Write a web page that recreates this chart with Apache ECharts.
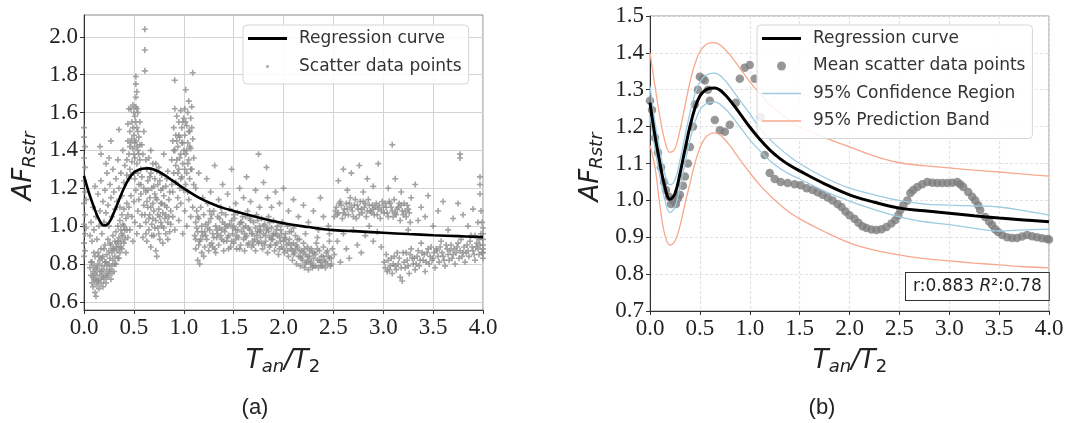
<!DOCTYPE html>
<html><head><meta charset="utf-8">
<script src="https://cdn.jsdelivr.net/npm/echarts@6/dist/echarts.min.js"></script>
<style>html,body{margin:0;padding:0;background:#fff}#c{width:1068px;height:423px}</style>
</head><body><div id="c"></div>
<script>
// ---------- tick labels ----------
const xTicks = [0, 0.5, 1, 1.5, 2, 2.5, 3, 3.5, 4];
const yTicksA = [0.6, 0.8, 1.0, 1.2, 1.4, 1.6, 1.8, 2.0];
const yTicksB = [0.7, 0.8, 0.9, 1.0, 1.1, 1.2, 1.3, 1.4, 1.5];

// ---------- regression curve & bands (shared x) ----------
const curveX = [0,0.05,0.1,0.15,0.2,0.25,0.3,0.35,0.4,0.45,0.5,0.55,0.6,0.65,0.7,0.75,0.8,0.9,1.0,1.1,1.2,1.3,1.4,1.5,1.75,2.0,2.25,2.5,2.75,3.0,3.25,3.5,3.75,4.0];
const regY   = [1.265,1.175,1.10,1.035,1.003,1.018,1.072,1.137,1.20,1.25,1.283,1.298,1.304,1.305,1.299,1.287,1.272,1.236,1.199,1.166,1.137,1.114,1.095,1.08,1.045,1.015,0.995,0.979,0.972,0.965,0.958,0.952,0.947,0.942];
const confUp = [1.31,1.21,1.135,1.07,1.042,1.055,1.108,1.173,1.237,1.288,1.321,1.337,1.344,1.345,1.339,1.326,1.309,1.272,1.235,1.197,1.166,1.141,1.119,1.10,1.062,1.033,1.015,1.0,0.99,0.987,0.985,0.982,0.972,0.96];
const confLo = [1.23,1.14,1.065,1.0,0.967,0.982,1.036,1.10,1.163,1.212,1.245,1.26,1.266,1.267,1.261,1.249,1.235,1.2,1.164,1.135,1.108,1.087,1.071,1.058,1.025,0.998,0.975,0.955,0.942,0.934,0.924,0.917,0.92,0.922];
const predUp = [1.40,1.31,1.225,1.16,1.13,1.14,1.19,1.255,1.32,1.37,1.403,1.42,1.427,1.428,1.422,1.41,1.395,1.359,1.322,1.29,1.26,1.237,1.217,1.199,1.17,1.145,1.12,1.102,1.094,1.088,1.082,1.077,1.071,1.066];
const predLo = [1.15,1.09,0.985,0.905,0.879,0.89,0.93,0.99,1.045,1.10,1.143,1.168,1.18,1.183,1.178,1.165,1.149,1.111,1.075,1.042,1.014,0.989,0.967,0.95,0.915,0.885,0.865,0.852,0.842,0.836,0.83,0.825,0.82,0.817];

// ---------- mean scatter points (panel b) ----------
const meanPts = [[0.00,1.27],[0.02,1.245],[0.05,1.17],[0.08,1.13],[0.11,1.09],[0.14,1.05],[0.16,1.028],[0.19,1.01],[0.21,0.99],[0.23,1.0],[0.26,0.99],[0.28,1.005],[0.30,1.015],[0.33,1.04],[0.35,1.065],[0.38,1.10],[0.40,1.145],[0.43,1.20],[0.45,1.26],[0.48,1.30],[0.50,1.335],[0.53,1.33],[0.55,1.325],[0.58,1.30],[0.60,1.27],[0.65,1.218],[0.70,1.19],[0.75,1.186],[0.80,1.205],[0.86,1.265],[0.90,1.33],[0.95,1.36],[1.00,1.367],[1.05,1.33],[1.11,1.226],[1.15,1.123],[1.20,1.074],[1.25,1.058],[1.31,1.05],[1.38,1.047],[1.45,1.044],[1.51,1.041],[1.57,1.033],[1.63,1.028],[1.68,1.022],[1.73,1.015],[1.78,1.008],[1.83,1.0],[1.88,0.99],[1.92,0.982],[1.96,0.97],[2.00,0.96],[2.05,0.95],[2.09,0.939],[2.13,0.93],[2.17,0.925],[2.22,0.921],[2.27,0.92],[2.32,0.922],[2.37,0.928],[2.42,0.937],[2.46,0.947],[2.49,0.96],[2.51,0.974],[2.54,0.987],[2.58,1.0],[2.61,1.02],[2.64,1.028],[2.68,1.036],[2.73,1.044],[2.78,1.05],[2.83,1.048],[2.88,1.047],[2.93,1.047],[2.98,1.047],[3.03,1.048],[3.08,1.05],[3.11,1.044],[3.14,1.036],[3.19,1.023],[3.23,1.01],[3.26,1.0],[3.29,0.987],[3.31,0.974],[3.36,0.955],[3.40,0.943],[3.43,0.933],[3.46,0.922],[3.49,0.914],[3.53,0.906],[3.58,0.90],[3.63,0.898],[3.68,0.898],[3.73,0.902],[3.78,0.906],[3.83,0.903],[3.88,0.90],[3.93,0.897],[3.98,0.895],[4.00,0.894]];

const scatterA = [[0.00,1.52],[0.00,1.47],[0.01,1.42],[0.00,1.36],[0.01,1.31],[0.00,1.24],[0.01,1.18],[0.00,1.12],[0.01,1.06],[0.00,1.01],[0.01,0.96],[0.00,0.91],[0.01,0.87],[0.02,1.14],[0.02,0.99],[0.00,0.84],
[0.06,0.78],[0.07,0.74],[0.08,0.70],[0.08,0.81],[0.09,0.68],[0.09,0.76],[0.10,0.72],[0.10,0.79],[0.11,0.65],[0.11,0.84],[0.12,0.63],[0.12,0.71],[0.12,0.77],[0.13,0.69],[0.13,0.74],[0.14,0.80],[0.14,0.86],[0.15,0.72],[0.15,0.67],[0.16,0.76],[0.16,0.82],[0.17,0.70],[0.17,0.88],[0.18,0.74],[0.18,0.79],[0.19,0.68],[0.19,0.84],[0.20,0.72],[0.20,0.77],[0.21,0.81],[0.21,0.90],[0.22,0.75],[0.22,0.70],[0.23,0.79],[0.23,0.85],[0.24,0.74],[0.24,0.93],[0.25,0.80],[0.25,0.87],[0.26,0.77],[0.26,0.83],[0.27,0.72],[0.27,0.90],[0.28,0.79],[0.28,0.86],[0.29,0.82],[0.29,0.95],[0.30,0.76],[0.30,0.88],[0.31,0.84],[0.31,0.92],[0.32,0.80],[0.32,0.97],[0.33,0.87],[0.33,0.91],[0.34,0.83],[0.34,1.00],[0.35,0.89],[0.35,0.94],[0.36,0.86],[0.36,1.03],[0.37,0.92],[0.37,0.98],[0.38,0.88],[0.38,1.06],[0.39,0.95],[0.39,1.01],[0.40,0.91],[0.40,1.09],[0.41,0.98],[0.42,1.04],[0.42,0.86],[0.43,1.12],[0.44,0.94],
[0.07,0.81],[0.09,0.73],[0.10,0.86],[0.11,0.75],[0.13,0.78],[0.14,0.71],[0.15,0.84],[0.17,0.76],[0.18,0.83],[0.19,0.73],[0.20,0.88],[0.22,0.81],[0.23,0.73],[0.25,0.76],[0.26,0.91],[0.28,0.75],[0.29,0.88],[0.31,0.80],[0.32,0.89],[0.34,0.92],[0.35,0.83],[0.37,0.89],[0.38,0.96],[0.40,1.00],[0.41,0.93],[0.43,0.98],[0.44,1.06],
[0.06,0.95],[0.07,1.02],[0.08,0.92],[0.09,1.10],[0.10,0.98],[0.11,1.21],[0.12,1.05],[0.13,0.93],[0.14,1.17],[0.15,1.00],[0.16,1.08],[0.17,1.24],[0.18,0.96],[0.19,1.13],[0.20,1.02],[0.21,1.19],[0.22,1.07],[0.23,1.28],[0.24,1.11],[0.25,1.00],[0.26,1.22],[0.27,1.15],[0.28,1.05],[0.29,1.30],[0.30,1.18],[0.31,1.09],[0.32,1.25],[0.33,1.13],[0.34,1.35],[0.35,1.20],[0.36,1.10],[0.37,1.28],[0.38,1.16],[0.39,1.40],[0.40,1.23],[0.41,1.32],[0.43,1.27],[0.44,1.45],
[0.16,1.42],[0.17,1.38],[0.27,1.45],[0.25,1.36],[0.35,1.51],[0.22,1.33]];

const scatterB = [[0.45,1.25],[0.45,1.38],[0.46,1.50],[0.46,1.30],[0.47,1.44],[0.47,1.62],[0.48,1.34],[0.48,1.55],[0.49,1.41],[0.49,1.64],[0.50,1.28],[0.50,1.48],[0.51,1.36],[0.51,1.58],[0.52,1.45],[0.52,1.68],[0.52,1.75],[0.52,1.79],[0.53,1.33],[0.53,1.52],[0.53,1.71],[0.54,1.40],[0.54,1.60],[0.55,1.22],[0.55,1.47],[0.56,1.35],[0.56,1.55],[0.57,1.30],[0.58,1.43],[0.58,1.26],[0.59,1.38],[0.60,1.20],[0.60,1.50],
[0.46,1.42],[0.47,1.27],[0.48,1.46],[0.49,1.52],[0.50,1.38],[0.50,1.60],[0.51,1.44],[0.51,1.25],[0.52,1.55],[0.53,1.42],[0.54,1.50],[0.54,1.28],[0.55,1.38],[0.56,1.43],[0.57,1.22],[0.43,1.35],[0.44,1.54],[0.45,1.62],[0.52,1.63],[0.53,1.62],
[0.45,1.10],[0.46,0.98],[0.47,1.16],[0.48,1.05],[0.49,0.92],[0.50,1.13],[0.51,1.02],[0.52,1.19],[0.53,0.96],[0.54,1.08],[0.55,1.14],[0.56,1.00],[0.57,1.17],[0.58,1.06],[0.59,0.94],[0.60,1.11],
[0.61,2.04],[0.61,1.93],[0.61,1.82],
[0.62,1.02],[0.62,1.18],[0.63,1.30],[0.63,0.92],[0.64,1.10],[0.64,1.24],[0.65,1.36],[0.65,0.98],[0.66,1.15],[0.66,1.06],[0.67,1.28],[0.67,0.89],[0.68,1.20],[0.68,1.01],[0.69,1.12],[0.69,1.33],[0.70,0.95],[0.70,1.08],[0.71,1.25],[0.71,1.17],[0.72,1.03],[0.72,0.87],[0.73,1.14],[0.73,0.84],[0.74,1.22],[0.74,0.99],[0.75,1.09],[0.75,1.31],[0.76,1.05],[0.76,0.93],[0.77,1.19],[0.77,1.12],[0.78,1.00],[0.78,1.27],[0.79,1.07],[0.79,0.91],[0.80,1.16],[0.80,1.38],[0.81,1.04],[0.82,1.21],[0.82,0.96],[0.83,1.10],[0.84,1.02],[0.84,1.29],[0.85,1.14],[0.86,0.97],[0.87,1.08],[0.88,1.22],
[0.61,1.06],[0.62,0.96],[0.63,1.13],[0.64,1.19],[0.65,1.04],[0.66,1.26],[0.67,1.10],[0.68,0.95],[0.69,1.04],[0.70,1.21],[0.71,0.99],[0.72,1.15],[0.73,1.29],[0.74,1.06],[0.75,0.96],[0.76,1.24],[0.77,1.02],[0.78,1.12],[0.79,1.20],[0.80,0.99],[0.81,1.11],[0.82,1.06],[0.83,1.25],[0.84,0.93],[0.85,1.05],[0.86,1.18],[0.87,1.01],[0.62,1.35],[0.67,1.40],[0.72,1.33],
[0.88,1.35],[0.89,1.45],[0.89,1.18],[0.90,1.52],[0.90,1.28],[0.91,1.62],[0.91,1.40],[0.91,1.77],[0.92,1.23],[0.92,1.48],[0.93,1.35],[0.93,1.58],[0.94,1.15],[0.94,1.42],[0.95,1.30],[0.95,1.55],[0.96,1.20],[0.96,1.47],[0.97,1.38],[0.97,1.61],[0.98,1.26],[0.98,1.52],[0.99,1.44],[0.99,1.33],[1.00,1.57],[1.00,1.19],[1.01,1.48],[1.01,1.62],[1.02,1.38],[1.02,1.72],[1.03,1.28],[1.03,1.53],[1.04,1.44],[1.04,1.60],[1.05,1.35],[1.05,1.66],[1.06,1.25],[1.06,1.50],[1.07,1.41],[1.07,1.57],[1.08,1.30],[1.08,1.63],[1.09,1.81],[1.09,1.46],[1.10,1.36],[1.10,1.22],
[0.90,1.40],[0.92,1.32],[0.93,1.45],[0.94,1.28],[0.95,1.48],[0.96,1.36],[0.97,1.25],[0.98,1.44],[0.99,1.55],[1.00,1.40],[1.01,1.30],[1.02,1.55],[1.03,1.40],[1.04,1.33],[1.05,1.50],[1.06,1.42],[1.07,1.30],[1.08,1.52],[1.02,1.22],[1.04,1.18],
[0.89,1.05],[0.91,0.98],[0.93,1.10],[0.95,1.03],[0.97,1.12],[0.99,0.96],[1.01,1.08],[1.03,1.00],[1.05,1.14],[1.07,1.05],[1.09,1.10]];

const scatterC = [[1.11,0.95],[1.12,1.02],[1.12,0.88],[1.13,1.08],[1.14,0.82],[1.14,0.97],[1.15,1.04],[1.16,0.80],[1.16,0.92],[1.17,1.10],[1.18,0.86],[1.18,1.00],[1.19,0.95],[1.20,1.06],[1.21,0.89],[1.22,1.01],[1.23,0.93],[1.24,1.12],[1.25,0.87],[1.26,0.98],[1.27,1.04],[1.28,0.91],[1.29,0.96],[1.30,1.08],[1.31,0.88],[1.32,1.00],[1.33,0.94],[1.34,1.05],[1.35,0.90],[1.36,0.99],[1.37,1.10],[1.38,0.93],[1.39,1.02],[1.40,0.87],[1.41,0.97],[1.42,1.06],[1.43,0.92],[1.44,1.00],[1.45,0.95],[1.46,1.09],[1.47,0.89],[1.48,1.03],[1.49,0.96],[1.50,0.91],[1.51,1.04],[1.52,0.98],[1.53,0.88],[1.54,1.07],[1.55,0.94],[1.56,1.01],[1.57,0.90],[1.58,0.97],[1.59,1.05],[1.60,0.93],[1.61,0.87],[1.62,1.00],[1.63,0.95],[1.64,1.08],[1.65,0.91],[1.66,0.98],[1.67,1.03],[1.68,0.89],[1.69,0.96],[1.70,1.02],[1.71,0.93],[1.72,0.87],[1.73,1.06],[1.74,0.97],[1.75,0.91],[1.76,1.00],[1.77,0.94],[1.78,1.04],[1.79,0.88],[1.80,0.96],[1.81,1.01],[1.82,0.92],[1.83,0.98],[1.84,0.86],[1.85,1.05],[1.86,0.94],[1.87,0.90],[1.88,0.99],[1.89,0.93],[1.90,1.03],[1.91,0.87],[1.92,0.96],[1.93,0.91],[1.94,1.00],[1.95,0.85],[1.96,0.94],[1.97,0.98],[1.98,0.89],[1.99,1.02],[2.00,0.92],[2.01,0.86],[2.02,0.96],[2.03,0.90],[2.04,1.00],[2.05,0.84],[2.06,0.93],[2.07,0.88],[2.08,0.97],[2.09,0.82],[2.10,0.91],[2.11,0.86],[2.12,0.95],[2.13,0.80],[2.14,0.89],[2.15,0.84],[2.16,0.93],[2.17,0.79],[2.18,0.87],[2.19,0.82],[2.20,0.91],[2.21,0.78],[2.22,0.85],[2.23,0.81],[2.24,0.89],[2.25,0.77],[2.26,0.84],[2.27,0.80],[2.28,0.88],[2.29,0.78],[2.30,0.83],[2.31,0.86],[2.32,0.79],[2.33,0.91],[2.34,0.82],[2.35,0.78],[2.36,0.87],[2.37,0.81],[2.38,0.84],[2.39,0.79],[2.40,0.89],[2.41,0.82],[2.42,0.78],[2.43,0.86],[2.44,0.80],[2.45,0.84],[2.46,0.92],[2.47,0.79],[2.48,0.83],[2.49,0.88],
[1.13,0.99],[1.17,0.93],[1.21,0.97],[1.25,1.02],[1.29,0.89],[1.33,0.98],[1.37,0.95],[1.41,1.01],[1.45,0.88],[1.49,0.99],[1.53,0.95],[1.57,1.02],[1.61,0.96],[1.65,0.99],[1.69,0.92],[1.73,0.95],[1.77,0.98],[1.81,0.90],[1.85,0.97],[1.89,0.95],[1.93,0.98],[1.97,0.92],[2.01,0.94],[2.05,0.91],[2.09,0.87],[2.13,0.90],[2.17,0.84],[2.21,0.88],[2.25,0.82],[2.29,0.86],
[1.12,0.93],[1.15,0.90],[1.18,0.97],[1.20,0.84],[1.22,0.95],[1.24,0.99],[1.26,0.90],[1.28,1.06],[1.30,0.94],[1.32,0.86],[1.34,0.96],[1.36,1.04],[1.38,0.98],[1.40,0.92],[1.42,0.99],[1.44,0.94],[1.46,1.01],[1.48,0.92],[1.50,1.00],[1.52,0.93],[1.54,0.98],[1.56,0.88],[1.58,1.02],[1.60,0.99],[1.62,0.94],[1.64,0.90],[1.66,1.04],[1.68,0.96],[1.70,0.90],[1.72,0.99],[1.74,0.92],[1.76,0.97],[1.78,0.91],[1.80,1.00],[1.82,0.95],[1.84,0.99],[1.86,0.89],[1.88,0.93],[1.90,0.96],[1.92,0.90],[1.94,0.95],[1.96,0.88],[1.98,0.96],[2.00,0.88],[2.02,0.93],[2.04,0.87],[2.06,0.97],[2.08,0.90],[2.10,0.85],[2.12,0.88],[2.14,0.93],[2.16,0.87],[2.18,0.83],[2.20,0.86],[2.22,0.80],[2.24,0.84],[2.26,0.87],[2.28,0.81],[2.30,0.79],[2.32,0.85],[2.34,0.88],[2.36,0.82],[2.38,0.79],[2.40,0.84],[2.42,0.81],[2.44,0.87],[2.46,0.83],[2.48,0.80],[1.14,1.05],[1.26,1.08],[1.38,1.07],[1.50,1.06],[1.62,1.05],[1.74,1.03],[1.86,1.02],[1.98,1.01],[2.10,0.99],[2.22,0.96],[2.34,0.94],[2.46,0.96],
[1.12,1.20],[1.15,1.28],[1.19,1.15],[1.23,1.25],[1.27,1.18],[1.31,1.32],[1.35,1.14],[1.39,1.22],[1.44,1.17],[1.48,1.30],[1.52,1.12],[1.56,1.20],[1.60,1.15],[1.63,1.26],[1.67,1.13],[1.72,1.19],[1.76,1.10],[1.80,1.23],[1.84,1.15],[1.88,1.10],[1.92,1.18],[1.96,1.12],[2.00,1.20],[2.05,1.08],[2.10,1.14],[2.15,1.05],[2.20,1.11],[2.25,1.02],[2.30,1.08],[2.35,0.98],[2.40,1.05],[2.45,1.00],[1.75,1.38],[1.83,1.31],[2.37,1.15]];

const scatterD = [[2.51,1.05],[2.53,1.10],[2.55,1.07],[2.57,1.13],[2.59,1.04],[2.61,1.09],[2.63,1.12],[2.65,1.06],[2.67,1.15],[2.69,1.08],[2.71,1.11],[2.73,1.04],[2.75,1.09],[2.77,1.13],[2.79,1.07],[2.81,1.10],[2.83,1.05],[2.85,1.14],[2.87,1.08],[2.89,1.11],[2.91,1.06],[2.93,1.12],[2.95,1.09],[2.97,1.04],[2.99,1.13],[3.01,1.07],[3.03,1.10],[3.05,1.05],[3.07,1.12],[3.09,1.08],[3.11,1.14],[3.13,1.06],[3.15,1.10],[3.17,1.03],[3.19,1.08],[3.21,1.12],[3.23,1.05],[3.25,1.09],[3.27,1.02],
[2.52,1.08],[2.58,1.11],[2.62,1.06],[2.68,1.10],[2.72,1.14],[2.78,1.09],[2.82,1.12],[2.88,1.07],[2.92,1.10],[2.98,1.08],[3.02,1.12],[3.08,1.10],[3.12,1.07],[3.18,1.11],[3.22,1.08],
[2.54,1.06],[2.56,1.12],[2.60,1.07],[2.64,1.09],[2.66,1.12],[2.70,1.05],[2.74,1.11],[2.76,1.06],[2.80,1.13],[2.84,1.08],[2.86,1.11],[2.90,1.09],[2.94,1.06],[2.96,1.11],[3.00,1.10],[3.04,1.07],[3.06,1.13],[3.10,1.05],[3.14,1.09],[3.16,1.12],[3.20,1.06],[3.24,1.11],[3.26,1.07],
[2.51,0.85],[2.54,0.92],[2.57,0.81],[2.60,0.96],[2.63,0.88],[2.66,0.83],[2.70,0.98],[2.74,0.90],[2.78,0.86],[2.82,0.95],[2.86,1.00],[2.90,0.92],[2.94,0.97],[2.98,0.89],
[3.02,0.78],[3.04,0.76],[3.05,0.82],[3.07,0.79],[3.09,0.75],[3.11,0.84],[3.13,0.77],[3.15,0.80],[3.17,0.73],[3.19,0.71],[3.20,0.86],[3.22,0.78],[3.24,0.82],[3.26,0.75],[3.28,0.88],[3.30,0.80],[3.32,0.77],[3.34,0.84],[3.36,0.79],[3.38,0.91],[3.40,0.82],[3.42,0.76],[3.44,0.86],[3.46,0.80],[3.48,0.89],[3.50,0.83],[3.52,0.78],[3.54,0.87],[3.56,0.81],[3.58,0.92],[3.60,0.84],[3.62,0.79],[3.64,0.88],[3.66,0.82],[3.68,0.90],[3.70,0.85],[3.72,0.80],[3.74,0.89],[3.76,0.83],[3.78,0.93],[3.80,0.86],[3.82,0.81],[3.84,0.90],[3.86,0.84],[3.88,0.95],[3.90,0.87],[3.92,0.82],[3.94,0.91],[3.96,0.85],[3.98,0.96],[4.00,0.88],[4.00,0.83],[4.00,0.93],[4.00,0.99],
[3.03,0.85],[3.10,0.80],[3.16,0.83],[3.23,0.86],[3.29,0.83],[3.35,0.87],[3.41,0.85],[3.47,0.84],[3.53,0.88],[3.59,0.86],[3.65,0.85],[3.71,0.88],[3.77,0.87],[3.83,0.86],[3.89,0.89],[3.95,0.88],
[3.01,0.81],[3.06,0.77],[3.08,0.83],[3.12,0.79],[3.14,0.86],[3.18,0.78],[3.21,0.81],[3.25,0.79],[3.27,0.85],[3.31,0.83],[3.33,0.80],[3.37,0.82],[3.39,0.86],[3.43,0.81],[3.45,0.88],[3.49,0.82],[3.51,0.86],[3.55,0.84],[3.57,0.89],[3.61,0.82],[3.63,0.90],[3.67,0.87],[3.69,0.83],[3.73,0.86],[3.75,0.91],[3.79,0.84],[3.81,0.89],[3.85,0.87],[3.87,0.92],[3.91,0.85],[3.93,0.89],[3.97,0.90],[3.99,0.86],[4.00,0.90],[4.00,0.86],[4.00,0.96],[3.99,1.02],[3.98,1.08],[3.96,0.93],[3.92,0.95],
[3.09,1.43],[3.05,1.20],[3.12,1.25],[3.18,1.18],[3.28,1.15],[3.32,1.22],[3.38,1.10],[3.42,1.05],[3.45,1.16],[3.50,1.00],[3.55,1.08],[3.60,1.13],[3.65,0.98],[3.70,1.04],[3.77,1.38],[3.77,1.36],[3.75,1.12],[3.80,1.06],[3.85,1.00],[3.90,1.09],[3.95,1.02],[3.97,1.26],[3.97,1.22],[3.97,1.17],[3.35,1.03],[3.25,0.98],
[2.55,1.24],[2.60,1.30],[2.68,1.28],[2.76,1.32],[2.84,1.25],[2.90,1.21],[2.95,1.33],[2.64,1.19],[2.80,1.18]];

// ---------- build ----------
const zip = (xs, ys) => xs.map((x, i) => [x, ys[i]]);
const scatterAll = scatterA.concat(scatterB, scatterC, scatterD);

const SERIF = 'Liberation Serif';
const SANS = 'DejaVu Sans';
const plusPath = 'path://M2.2,0H3.8V2.2H6V3.8H3.8V6H2.2V3.8H0V2.2H2.2Z';
const lineIcon = h => 'path://M0,0M39,14M0,' + (7 - h / 2) + 'H39V' + (7 + h / 2) + 'H0Z';

function xAxisCfg(gi, gridStyle) {
  return {
    type: 'value', gridIndex: gi, min: 0, max: 4,
    axisLine: { show: true, onZero: false, lineStyle: { color: '#333', width: 1 } },
    axisTick: { show: true, length: 4, customValues: xTicks, lineStyle: { color: '#333' } },
    axisLabel: { customValues: xTicks, formatter: v => v.toFixed(1), fontFamily: SERIF, fontSize: 23, color: '#222', margin: 6 },
    splitLine: { show: true, lineStyle: gridStyle }
  };
}
function yAxisCfg(gi, mn, mx, ticks, gridStyle) {
  return {
    type: 'value', gridIndex: gi, min: mn, max: mx,
    axisLine: { show: true, onZero: false, lineStyle: { color: '#333', width: 1 } },
    axisTick: { show: true, length: 4, customValues: ticks, lineStyle: { color: '#333' } },
    axisLabel: { customValues: ticks, formatter: v => v.toFixed(1), fontFamily: SERIF, fontSize: 23, color: '#222', margin: 6 },
    splitLine: { show: true, lineStyle: gridStyle }
  };
}
const gridA = { color: '#d3d3d3', width: 1 };
const gridB = { color: '#e2e2e2', width: 1.2, type: [3, 2] };

const legendText = { fontFamily: SANS, fontSize: 17, color: '#333', lineHeight: 14, padding: [0, 0, 0, 7] };
const legendBase = {
  orient: 'vertical', itemWidth: 39, itemHeight: 14, itemGap: 11,
  backgroundColor: 'rgba(255,255,255,0.85)', borderColor: '#d6d6d6', borderWidth: 1, borderRadius: 4,
  textStyle: legendText, selectedMode: false,
  itemStyle: { borderWidth: 0 }
};

const titleRich = {
  a: { fontFamily: SANS, fontStyle: 'italic', fontSize: 26, fill: '#222' },
  b: { fontFamily: SANS, fontStyle: 'italic', fontSize: 18, fill: '#222', padding: [12, 0, 0, 0] },
  c: { fontFamily: SANS, fontSize: 18, fill: '#222', padding: [12, 0, 0, 0] }
};
function yTitle(x, y) {
  return { type: 'text', x: x, y: y, rotation: Math.PI / 2,
    style: { text: '{a|AF}{b|Rstr}', rich: titleRich, align: 'center', verticalAlign: 'middle' } };
}
function xTitle(x, y) {
  return { type: 'text', x: x, y: y,
    style: { text: '{a|T}{b|an}{a|/T}{c|2}', rich: titleRich, align: 'center', verticalAlign: 'middle' } };
}

const chart = echarts.init(document.getElementById('c'), null, { renderer: 'canvas' });
chart.setOption({
  animation: false,
  backgroundColor: '#fff',
  grid: [
    { left: 84, top: 15, width: 399, height: 295, show: true, borderColor: '#888', borderWidth: 1, backgroundColor: 'transparent' },
    { left: 650, top: 16, width: 399, height: 295, show: true, borderColor: '#999', borderWidth: 1, backgroundColor: 'transparent' }
  ],
  xAxis: [xAxisCfg(0, gridA), xAxisCfg(1, gridB)],
  yAxis: [yAxisCfg(0, 0.557, 2.115, yTicksA, gridA), yAxisCfg(1, 0.7, 1.5, yTicksB, gridB)],
  legend: [
    Object.assign({}, legendBase, {
      left: 243, top: 25, padding: [5, 7, 9, 5],
      data: [{ name: 'Regression curve', icon: lineIcon(2.8) },
             { name: 'Scatter data points', icon: 'path://M0,0M39,14M18.2,5.7H20.8V8.3H18.2Z' }]
    }),
    Object.assign({}, legendBase, {
      left: 757, top: 25, padding: [5, 7, 9, 5], itemGap: 10.5,
      data: [{ name: 'Regression curve', icon: lineIcon(3) },
             { name: 'Mean scatter data points', icon: 'path://M0,0M39,14M24,7A4.5,4.5 0 1,1 15,7A4.5,4.5 0 1,1 24,7Z' },
             { name: '95% Confidence Region', icon: lineIcon(1.4) },
             { name: '95% Prediction Band', icon: lineIcon(1.4) }]
    })
  ],
  series: [
    { name: 'Scatter data points', type: 'scatter', xAxisIndex: 0, yAxisIndex: 0, data: scatterAll,
      symbol: plusPath, symbolSize: 6, itemStyle: { color: '#8c8c8c' }, z: 2, silent: true },
    { name: 'Regression curve', type: 'line', xAxisIndex: 0, yAxisIndex: 0, data: zip(curveX, regY),
      symbol: 'none', smooth: 0.4, lineStyle: { color: '#000', width: 2.6 }, itemStyle: { color: '#000' }, z: 4, silent: true },

    { name: 'Mean scatter data points', type: 'scatter', xAxisIndex: 1, yAxisIndex: 1, data: meanPts,
      symbol: 'circle', symbolSize: 8.5, itemStyle: { color: '#7d7d7d' }, z: 2, silent: true },
    { name: '95% Confidence Region', type: 'line', xAxisIndex: 1, yAxisIndex: 1, data: zip(curveX, confUp),
      symbol: 'none', smooth: 0.4, lineStyle: { color: '#9ccbe2', width: 1.3 }, itemStyle: { color: '#9ccbe2' }, z: 3, silent: true },
    { name: '95% Confidence Region', type: 'line', xAxisIndex: 1, yAxisIndex: 1, data: zip(curveX, confLo),
      symbol: 'none', smooth: 0.4, lineStyle: { color: '#9ccbe2', width: 1.3 }, itemStyle: { color: '#9ccbe2' }, z: 3, silent: true },
    { name: '95% Prediction Band', type: 'line', xAxisIndex: 1, yAxisIndex: 1, data: zip(curveX, predUp),
      symbol: 'none', smooth: 0.4, lineStyle: { color: '#f6a98c', width: 1.3 }, itemStyle: { color: '#f6a98c' }, z: 3, silent: true },
    { name: '95% Prediction Band', type: 'line', xAxisIndex: 1, yAxisIndex: 1, data: zip(curveX, predLo),
      symbol: 'none', smooth: 0.4, lineStyle: { color: '#f6a98c', width: 1.3 }, itemStyle: { color: '#f6a98c' }, z: 3, silent: true },
    { name: 'Regression curve', type: 'line', xAxisIndex: 1, yAxisIndex: 1, data: zip(curveX, regY),
      symbol: 'none', smooth: 0.4, lineStyle: { color: '#000', width: 3 }, itemStyle: { color: '#000' }, z: 4, silent: true }
  ],
  graphic: [
    yTitle(24, 166), xTitle(283, 361),
    yTitle(591, 167), xTitle(850, 361),
    { type: 'text', left: 905, top: 272, z: 100,
      style: { text: '{n|r:0.883 }{i|R}{n|²:0.78}',
        rich: { n: { fontFamily: SANS, fontSize: 17, fill: '#222' }, i: { fontFamily: SANS, fontSize: 17, fontStyle: 'italic', fill: '#222' } },
        backgroundColor: '#fff', borderColor: '#333', borderWidth: 1, padding: [5, 7, 5, 7] } },
    { type: 'text', x: 255, y: 408, style: { text: '(a)', font: '22px "Liberation Sans"', fill: '#222', align: 'center', verticalAlign: 'middle' } },
    { type: 'text', x: 822, y: 408, style: { text: '(b)', font: '22px "Liberation Sans"', fill: '#222', align: 'center', verticalAlign: 'middle' } }
  ]
});
</script>
</body></html>
